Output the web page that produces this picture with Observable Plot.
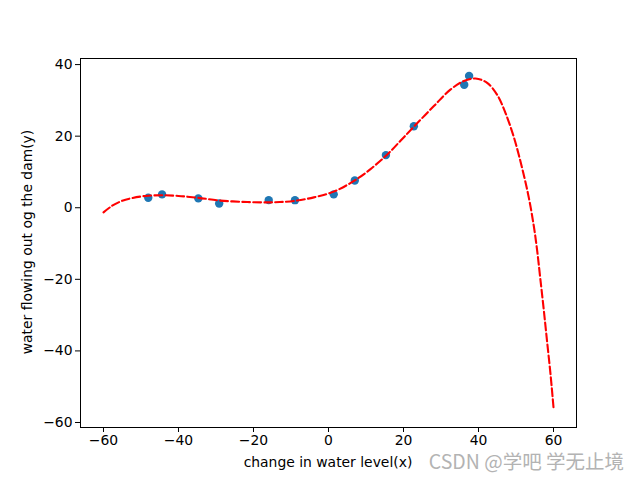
<!DOCTYPE html>
<html>
<head>
<meta charset="utf-8">
<script src="https://cdn.jsdelivr.net/npm/d3@7"></script>
<script src="https://cdn.jsdelivr.net/npm/@observablehq/plot@0.6"></script>
<style>
  html, body { margin: 0; padding: 0; background: #fff; }
  #chart { width: 640px; height: 480px; }
</style>
</head>
<body>
<div id="chart"></div>
<script>
// Observed data points
const waterX = [-15.94, -29.15, 36.19, 37.49, -48.06, -8.94, 15.31, -34.71, 1.39, -44.38, 7.01, 22.76];
const waterY = [2.13, 1.17, 34.36, 36.84, 2.81, 2.12, 14.71, 2.61, 3.74, 3.73, 7.63, 22.75];

// Fitted curve
const fitX = [-60, -57.7, -55, -52.4, -48.8, -44.4, -40, -35, -28.8, -21.7, -16, -13, -9.2, -3.9, 1.4, 6.8, 11.2, 15.6, 19.2, 22.9, 28.1, 32.5, 36.1, 39.2, 42.3, 45, 47, 49.4, 51.6, 53.4, 54.8, 55.7, 56.5, 57.4, 58.3, 59.2, 60];
const fitY = [-1.3, 0.55, 1.95, 2.7, 3.3, 3.5, 3.3, 2.8, 2.0, 1.6, 1.5, 1.6, 1.9, 2.9, 4.5, 7.5, 10.8, 14.8, 18.7, 22.8, 28.4, 33.0, 35.4, 36.1, 34.9, 31.5, 27.0, 19.8, 11.2, 2.9, -5.5, -12.5, -20.0, -28.5, -37.5, -46.5, -55.8];

const xTicks = [-60, -40, -20, 0, 20, 40, 60];
const yTicks = [-60, -40, -20, 0, 20, 40];

const points = waterX.map((x, i) => ({x, y: waterY[i]}));
const fit = fitX.map((x, i) => ({x, y: fitY[i]}));

const font = "'DejaVu Sans', sans-serif";

const svg = Plot.plot({
  width: 640,
  height: 480,
  marginLeft: 80,
  marginRight: 64,
  marginTop: 58,
  marginBottom: 53,
  style: {fontFamily: font, fontSize: "13.9px", color: "black", background: "white"},
  x: {domain: [-66.13, 66.13], ticks: xTicks, label: null},
  y: {domain: [-61.4, 41.7], ticks: yTicks, label: null},
  marks: [
    Plot.axisX({ticks: xTicks, tickSize: 5, tickPadding: 3, label: null, fontSize: 13.9}),
    Plot.axisY({ticks: yTicks, tickSize: 5, tickPadding: 3, label: null, fontSize: 13.9}),
    Plot.dot(points, {x: "x", y: "y", r: 4.2, fill: "#1f77b4", stroke: "none"}),
    Plot.line(fit, {x: "x", y: "y", stroke: "red", strokeWidth: 2.1, strokeDasharray: "7.7,3.3", curve: "catmull-rom"}),
    Plot.frame({stroke: "black", strokeWidth: 1})
  ]
});

const s = d3.select(svg);
s.append("text")
  .attr("x", 328).attr("y", 467)
  .attr("text-anchor", "middle")
  .attr("font-family", font).attr("font-size", "13.9px").attr("fill", "black")
  .text("change in water level(x)");
s.append("text")
  .attr("transform", "translate(32,242) rotate(-90)")
  .attr("text-anchor", "middle")
  .attr("font-family", font).attr("font-size", "13.9px").attr("fill", "black")
  .text("water flowing out og the dam(y)");
s.append("text")
  .attr("x", 624).attr("y", 469)
  .attr("text-anchor", "end")
  .attr("font-family", "'Noto Sans CJK SC', 'Noto Sans', sans-serif").attr("font-size", "19.5px")
  .attr("fill", "#b3b3b3")
  .text("CSDN @学吧 学无止境");

document.getElementById("chart").appendChild(svg);
</script>
</body>
</html>
